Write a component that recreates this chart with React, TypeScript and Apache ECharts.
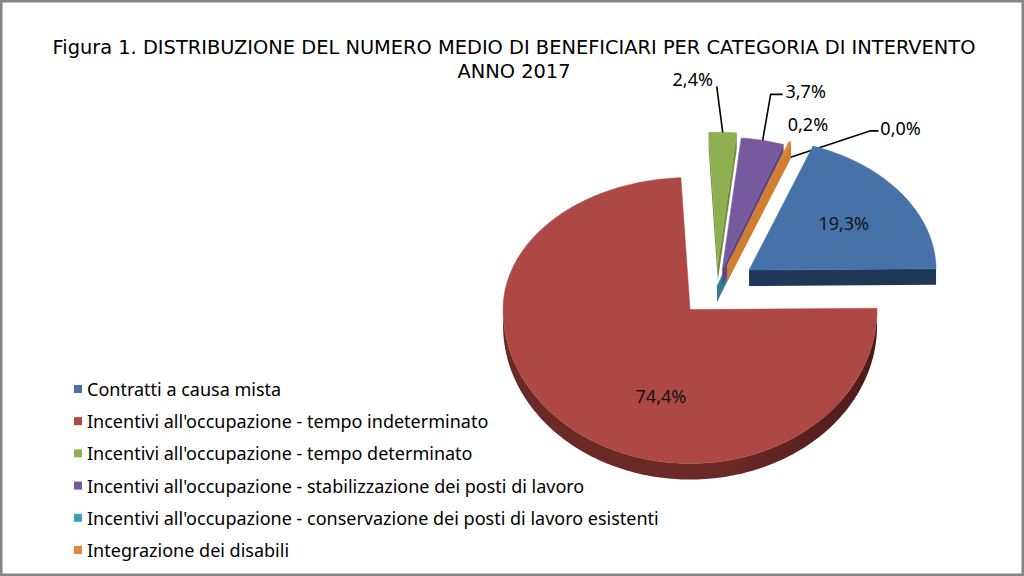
import React, { useEffect, useRef } from "react";
import * as echarts from "echarts";

// ---------- data ----------
const categories: string[] = [
  "Contratti a causa mista",
  "Incentivi all'occupazione - tempo indeterminato",
  "Incentivi all'occupazione - tempo determinato",
  "Incentivi all'occupazione - stabilizzazione dei posti di lavoro",
  "Incentivi all'occupazione - conservazione dei posti di lavoro esistenti",
  "Integrazione dei disabili",
];
const shares: number[] = [19.3, 74.4, 2.4, 3.7, 0.04, 0.2];

const titleLines: string[] = [
  "Figura 1. DISTRIBUZIONE DEL NUMERO MEDIO DI BENEFICIARI PER CATEGORIA DI INTERVENTO",
  "ANNO 2017",
];

// ---------- style ----------
const topColors = ["#4672A9", "#AE4845", "#8DAF4F", "#775A9D", "#3F9DB6", "#E0883A"];
const sideColors = ["#1F3756", "#6A2927", "#6F8E3A", "#5E4683", "#2E7E94", "#D27D30"];
const explode = [0.21, 0.21, 0.165, 0.13, 0, 0.16];
const zOrder = [5, 6, 2, 3, 1, 4];

type LabelLayout =
  | { mode: "inside"; angle: number | null; r: number }
  | { mode: "outside"; dx: number; dy: number; leader: number[][] };
const labelLayout: LabelLayout[] = [
  { mode: "inside", angle: null, r: 0.62 },
  { mode: "inside", angle: -105.6, r: 0.58 },
  { mode: "outside", dx: -30, dy: -53, leader: [[24, 7]] },
  { mode: "outside", dx: 43, dy: -49, leader: [[-35, 3], [-23, 3]] },
  { mode: "outside", dx: 122, dy: -33, leader: [[-30, 2.5], [-22, 2.5]] },
  { mode: "outside", dx: 18, dy: -18, leader: [] },
];

// pie geometry (pixels)
const CX = 717;
const CY = 286;
const RX = 187;
const RY_BACK = 132;
const RY_FRONT = 154;
const DEPTH = 16;
const START_ANGLE = 70;

const FONT = "'Noto Sans', 'Open Sans', sans-serif";
const TITLE_FONT = "'DejaVu Sans', Verdana, sans-serif";

const fmt = (v: number) => v.toFixed(1).replace(".", ",") + "%";

function proj(vx: number, vy: number, deg: number, r: number): number[] {
  const t = (deg * Math.PI) / 180;
  const s = Math.sin(t);
  return [vx + RX * r * Math.cos(t), vy - (s >= 0 ? RY_BACK : RY_FRONT) * r * s];
}

export default function App() {
  const ref = useRef<HTMLDivElement>(null);

  useEffect(() => {
    if (!ref.current) return;
    const chart = echarts.init(ref.current, undefined, { renderer: "svg" });
    const total = shares.reduce((a, b) => a + b, 0);

    const makeRender = (i: number) => (params: any, api: any) => {
      const value = api.value(0) as number;
      let a1 = START_ANGLE;
      for (let k = 0; k < i; k++) a1 -= (shares[k] / total) * 360;
      const a2 = a1 - (value / total) * 360;
      const mid = (a1 + a2) / 2;
      const [vx, vy] = proj(CX, CY, mid, explode[i]);
      const children: any[] = [];

      // sample angles
      const samp: number[] = [];
      for (let a = a1; a > a2; a -= 1) samp.push(a);
      samp.push(a2);
      for (let m = Math.ceil(a2 / 180) * 180; m <= a1; m += 180) samp.push(m);
      samp.sort((x, y) => y - x);

      // cut faces
      if (Math.cos((a1 * Math.PI) / 180) < 0) {
        const p = proj(vx, vy, a1, 1);
        children.push({
          type: "polygon",
          shape: { points: [[vx, vy], p, [p[0], p[1] + DEPTH], [vx, vy + DEPTH]] },
          style: { fill: sideColors[i] },
        });
      }
      if (Math.cos((a2 * Math.PI) / 180) > 0) {
        const p = proj(vx, vy, a2, 1);
        children.push({
          type: "polygon",
          shape: { points: [[vx, vy], p, [p[0], p[1] + DEPTH], [vx, vy + DEPTH]] },
          style: { fill: sideColors[i] },
        });
      }

      // outer rim (front half)
      let run: number[][] = [];
      const flush = () => {
        if (run.length >= 2) {
          const bottom = run.map((p) => [p[0], p[1] + DEPTH]).reverse();
          children.push({
            type: "polygon",
            shape: { points: run.concat(bottom) },
            style: {
              fill: new echarts.graphic.LinearGradient(0, 0, 1, 0, [
                { offset: 0, color: sideColors[i] },
                { offset: 0.6, color: sideColors[i] },
                { offset: 1, color: "#4A1C1B" },
              ]),
            },
          });
        }
        run = [];
      };
      for (const a of samp) {
        const s = Math.sin((a * Math.PI) / 180);
        if (s <= 1e-9) run.push(proj(vx, vy, a, 1));
        else flush();
      }
      flush();

      // top face
      const pts: number[][] = [[vx, vy]];
      for (const a of samp) pts.push(proj(vx, vy, a, 1));
      children.push({
        type: "polygon",
        shape: { points: pts },
        style: { fill: topColors[i], stroke: topColors[i], lineWidth: 0.5 },
      });

      // label
      const lay = labelLayout[i];
      const text = fmt(value);
      if (lay.mode === "inside") {
        const p = proj(vx, vy, lay.angle === null ? mid : lay.angle, lay.r);
        children.push({
          type: "text",
          x: p[0],
          y: p[1],
          style: {
            text,
            fill: "#141414",
            fontSize: 18,
            fontFamily: FONT,
            align: "center",
            verticalAlign: "middle",
          },
        });
      } else {
        const arc = proj(vx, vy, mid, 1);
        const lx = arc[0] + lay.dx;
        const ly = arc[1] + lay.dy;
        if (lay.leader.length) {
          const line = [arc].concat(lay.leader.map((q) => [lx + q[0], ly + q[1]]));
          children.push({
            type: "polyline",
            shape: { points: line },
            style: { stroke: "#000", lineWidth: 1.6, fill: null },
          });
        }
        children.push({
          type: "text",
          x: lx,
          y: ly,
          style: {
            text,
            fill: "#000",
            fontSize: 18,
            fontFamily: FONT,
            align: "center",
            verticalAlign: "middle",
          },
        });
      }
      return { type: "group", children };
    };

    const series = categories.map((name, i) => ({
      type: "custom",
      name,
      coordinateSystem: "none",
      data: [[shares[i]]],
      z: zOrder[i],
      itemStyle: { color: topColors[i] },
      silent: true,
      renderItem: makeRender(i),
    }));

    chart.setOption({
      animation: false,
      backgroundColor: "#ffffff",
      title: {
        text: titleLines.join("\n"),
        left: 509,
        top: 30,
        textAlign: "center",
        textStyle: {
          fontFamily: TITLE_FONT,
          fontSize: 19.4,
          fontWeight: "normal",
          color: "#000",
          lineHeight: 24,
        },
      },
      legend: {
        orient: "vertical",
        left: 69,
        top: 374,
        icon: "rect",
        itemWidth: 8,
        itemHeight: 8,
        itemGap: 12.2,
        selectedMode: false,
        data: categories.map((name, i) => ({ name, itemStyle: { color: topColors[i] } })),
        textStyle: { fontFamily: FONT, fontSize: 18, color: "#000", lineHeight: 20 },
      },
      graphic: [
        {
          type: "rect",
          shape: { x: 1, y: 1, width: 1022, height: 574 },
          style: { fill: "none", stroke: "#868686", lineWidth: 3 },
          z: 100,
          silent: true,
        },
      ],
      series,
    });

    return () => chart.dispose();
  }, []);

  return (
    <div
      ref={ref}
      style={{ position: "absolute", left: 0, top: 0, width: 1024, height: 576 }}
    />
  );
}
